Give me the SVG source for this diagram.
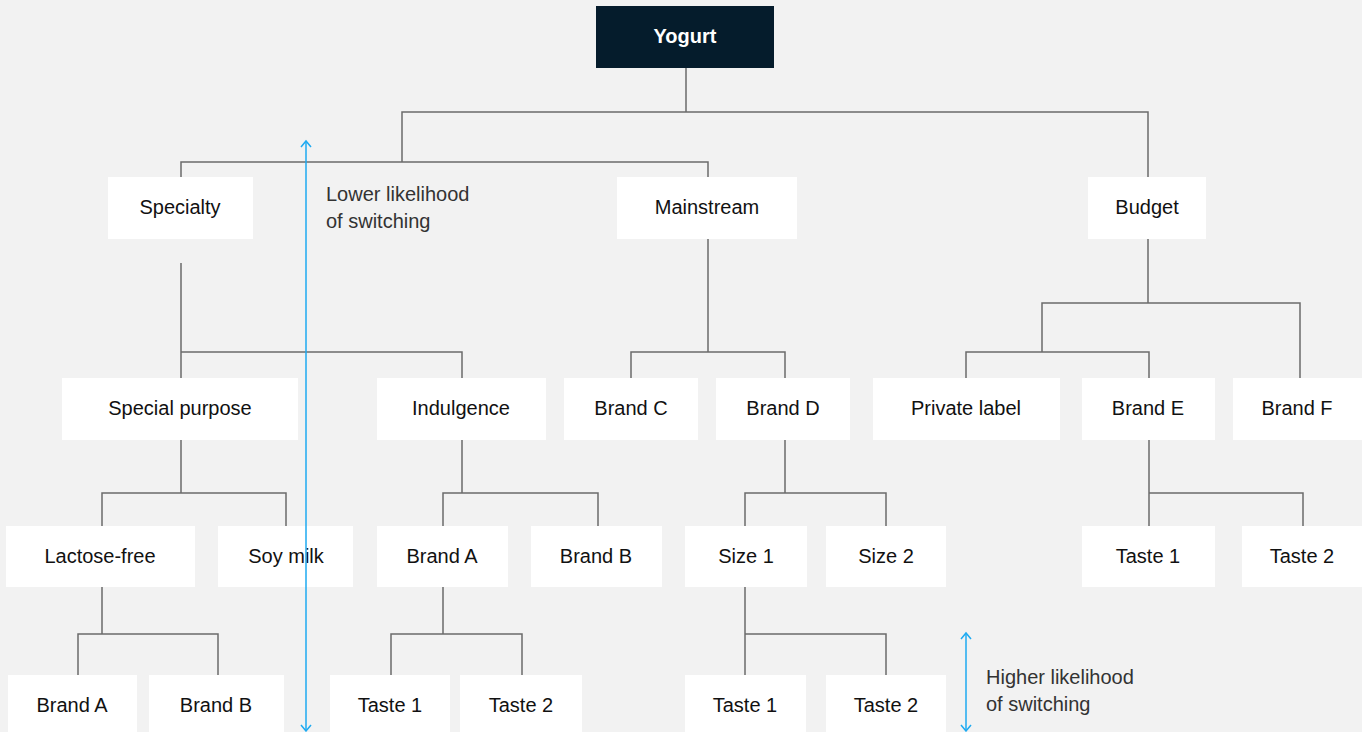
<svg xmlns="http://www.w3.org/2000/svg" width="1362" height="732" viewBox="0 0 1362 732">
<defs>
<style>
.n{fill:#ffffff}
.t{font-family:"Liberation Sans",Arial,sans-serif;font-size:20px;fill:#111;text-anchor:middle;dominant-baseline:central}
.a{font-family:"Liberation Sans",Arial,sans-serif;font-size:20px;fill:#333}
.c{fill:none;stroke:#6b6b6b;stroke-width:1.5}
.b{stroke:#1eaaf1;stroke-width:1.5;fill:none}
</style>
<marker id="ah" viewBox="0 0 12 12" refX="7" refY="6" markerWidth="12" markerHeight="12" markerUnits="userSpaceOnUse" orient="auto-start-reverse">
<path d="M1,1 L7,6 L1,11" fill="none" stroke="#1eaaf1" stroke-width="1.5"/>
</marker>
</defs>
<rect width="1362" height="732" fill="#f2f2f2"/>
<g id="connectors">
<path class="c" d="M686,68V112M402,162V112H1148V177M181,177V162H708V177"/>
<path class="c" d="M181,263V378M181,352H462V378"/>
<path class="c" d="M708,239V352M631,378V352H785V378"/>
<path class="c" d="M1148,239V303M1042,352V303H1300V378M966,378V352H1149V378"/>
<path class="c" d="M181,440V493M102,526V493H286V526"/>
<path class="c" d="M462,440V493M443,526V493H598V526"/>
<path class="c" d="M785,440V493M745,526V493H886V526"/>
<path class="c" d="M1149,440V526M1149,493H1303V526"/>
<path class="c" d="M102,587V634M78,675V634H218V675"/>
<path class="c" d="M443,587V634M391,675V634H522V675"/>
<path class="c" d="M745,587V675M745,634H886V675"/>
</g>
<g id="yogurt"><rect x="596" y="6" width="178" height="62" fill="#051c2c"/><text class="t" x="685" y="36" style="fill:#fff;font-weight:bold">Yogurt</text></g>
<g id="specialty"><rect class="n" x="108" y="177" width="145" height="62"/><text class="t" x="180" y="207">Specialty</text></g>
<g id="mainstream"><rect class="n" x="617" y="177" width="180" height="62"/><text class="t" x="707" y="207">Mainstream</text></g>
<g id="budget"><rect class="n" x="1088" y="177" width="118" height="62"/><text class="t" x="1147" y="207">Budget</text></g>
<g id="special-purpose"><rect class="n" x="62" y="378" width="236" height="62"/><text class="t" x="180" y="408">Special purpose</text></g>
<g id="indulgence"><rect class="n" x="377" y="378" width="169" height="62"/><text class="t" x="461" y="408">Indulgence</text></g>
<g id="brand-c"><rect class="n" x="564" y="378" width="134" height="62"/><text class="t" x="631" y="408">Brand C</text></g>
<g id="brand-d"><rect class="n" x="716" y="378" width="134" height="62"/><text class="t" x="783" y="408">Brand D</text></g>
<g id="private-label"><rect class="n" x="873" y="378" width="187" height="62"/><text class="t" x="966" y="408">Private label</text></g>
<g id="brand-e"><rect class="n" x="1082" y="378" width="133" height="62"/><text class="t" x="1148" y="408">Brand E</text></g>
<g id="brand-f"><rect class="n" x="1233" y="378" width="129" height="62"/><text class="t" x="1297" y="408">Brand F</text></g>
<g id="lactose-free"><rect class="n" x="6" y="526" width="189" height="61"/><text class="t" x="100" y="556">Lactose-free</text></g>
<g id="soy-milk"><rect class="n" x="218" y="526" width="135" height="61"/><text class="t" x="286" y="556">Soy milk</text></g>
<g id="brand-a-ind"><rect class="n" x="377" y="526" width="131" height="61"/><text class="t" x="442" y="556">Brand A</text></g>
<g id="brand-b-ind"><rect class="n" x="531" y="526" width="131" height="61"/><text class="t" x="596" y="556">Brand B</text></g>
<g id="size-1"><rect class="n" x="685" y="526" width="122" height="61"/><text class="t" x="746" y="556">Size 1</text></g>
<g id="size-2"><rect class="n" x="826" y="526" width="120" height="61"/><text class="t" x="886" y="556">Size 2</text></g>
<g id="taste-1-e"><rect class="n" x="1082" y="526" width="133" height="61"/><text class="t" x="1148" y="556">Taste 1</text></g>
<g id="taste-2-e"><rect class="n" x="1242" y="526" width="120" height="61"/><text class="t" x="1302" y="556">Taste 2</text></g>
<g id="brand-a-lf"><rect class="n" x="8" y="675" width="129" height="62"/><text class="t" x="72" y="705">Brand A</text></g>
<g id="brand-b-lf"><rect class="n" x="149" y="675" width="135" height="62"/><text class="t" x="216" y="705">Brand B</text></g>
<g id="taste-1-a"><rect class="n" x="330" y="675" width="120" height="62"/><text class="t" x="390" y="705">Taste 1</text></g>
<g id="taste-2-a"><rect class="n" x="460" y="675" width="122" height="62"/><text class="t" x="521" y="705">Taste 2</text></g>
<g id="taste-1-s"><rect class="n" x="685" y="675" width="121" height="62"/><text class="t" x="745" y="705">Taste 1</text></g>
<g id="taste-2-s"><rect class="n" x="826" y="675" width="120" height="62"/><text class="t" x="886" y="705">Taste 2</text></g>
<g id="scale">
<line class="b" x1="306" y1="141" x2="306" y2="731" marker-start="url(#ah)" marker-end="url(#ah)"/>
<text class="a" x="326" y="201">Lower likelihood</text>
<text class="a" x="326" y="228">of switching</text>
<line class="b" x1="966" y1="633" x2="966" y2="731" marker-start="url(#ah)" marker-end="url(#ah)"/>
<text class="a" x="986" y="684">Higher likelihood</text>
<text class="a" x="986" y="711">of switching</text>
</g>
</svg>
